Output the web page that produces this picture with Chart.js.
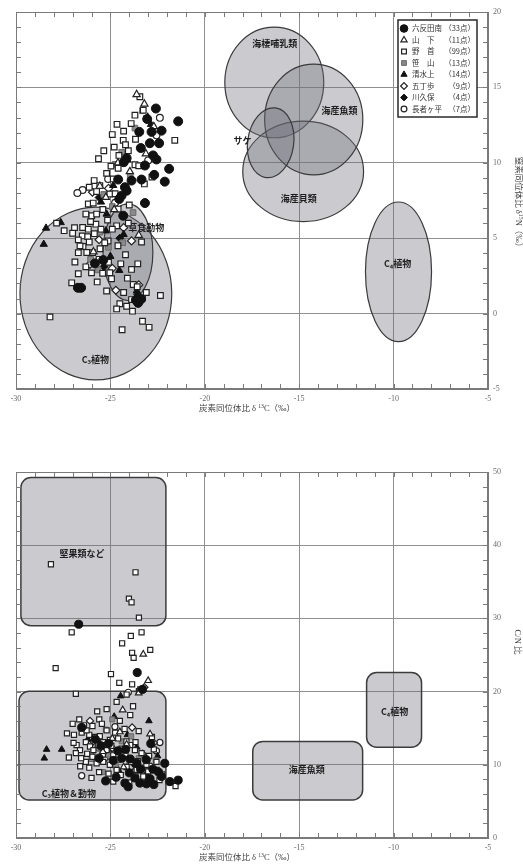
<!DOCTYPE html>
<html>
<head>
<meta charset="utf-8">
<script src="https://cdn.jsdelivr.net/npm/chart.js@4.4.1/dist/chart.umd.min.js"></script>
<style>
  html, body { margin: 0; padding: 0; background: #fff; }
  #wrap { position: relative; width: 523px; height: 864px; }
  canvas { position: absolute; left: 0; }
  #isoChart { top: 0; }
  #cnChart { top: 432px; }
</style>
</head>
<body>
<div id="wrap">
  <canvas id="isoChart" width="523" height="432"></canvas>
  <canvas id="cnChart" width="523" height="432"></canvas>
</div>
<script>
// ---------------- axes ----------------
const d13cRange = [-30, -5];   // δ13C (‰), labelled every 5
const d15nRange = [-5, 20];    // δ15N (‰), labelled every 5
const cnRange = [0, 50];       // C/N ratio, labelled every 10

// ---------------- sites ----------------
const siteNames = ['六反田南', '山　下', '野　首', '笹　山', '清水上', '五丁歩', '川久保', '長者ヶ平'];
const siteCounts = ['（33点）', '（11点）', '（99点）', '（13点）', '（14点）', '（9点）', '（4点）', '（7点）'];

// ---------------- δ13C / δ15N ----------------
const isoRokutanda = [
  [-22.59, 13.6], [-21.41, 12.75], [-23.05, 12.9], [-23.47, 12.05], [-22.82, 12.05], [-22.29, 12.13],
  [-22.91, 11.3], [-22.42, 11.3], [-23.39, 10.98], [-22.74, 10.49], [-22.56, 10.22], [-24.14, 10.31],
  [-24.29, 10.04], [-23.17, 9.82], [-21.89, 9.6], [-22.68, 9.2], [-23.35, 8.89], [-24.59, 8.89],
  [-23.88, 8.82], [-22.12, 8.75], [-24.23, 8.38], [-24.14, 8.15], [-24.41, 7.82], [-23.17, 7.33],
  [-24.32, 6.49], [-24.53, 7.6], [-25.38, 3.55], [-25.82, 3.33], [-26.72, 1.71], [-26.55, 1.71],
  [-23.53, 0.71], [-23.38, 0.95], [-23.65, 0.9]
];
const isoYamashita = [
  [-23.61, 14.53], [-23.2, 13.9], [-23.12, 10.6], [-23.97, 9.42], [-25.56, 8.45], [-25.24, 7.71],
  [-24.8, 6.9], [-22.7, 12.4], [-24.6, 10.0], [-23.5, 5.2], [-25.9, 4.1]
];
const isoNokubi = [
  [-23.44, 14.38], [-23.26, 13.49], [-23.7, 13.16], [-23.08, 12.93], [-21.59, 11.49], [-24.9, 11.87],
  [-24.32, 11.49], [-23.67, 11.56], [-24.8, 11.04], [-24.55, 10.49], [-25.63, 10.27], [-24.97, 9.78],
  [-24.59, 9.64], [-23.7, 9.87], [-23.5, 9.8], [-25.86, 8.82], [-25.56, 8.49], [-26.12, 8.38],
  [-24.85, 8.93], [-25.73, 8.09], [-26.17, 7.27], [-25.91, 7.33], [-25.03, 7.93], [-24.59, 6.93],
  [-25.99, 6.49], [-25.73, 6.6], [-27.85, 6.0], [-27.0, 5.33], [-26.47, 5.71], [-26.17, 5.6],
  [-25.77, 5.93], [-26.49, 5.15], [-26.2, 5.1], [-25.85, 5.3], [-26.7, 4.89], [-26.12, 4.75],
  [-25.12, 4.82], [-24.67, 5.82], [-23.35, 4.75], [-26.7, 4.04], [-26.45, 4.45], [-26.25, 4.05],
  [-26.88, 3.42], [-26.7, 2.64], [-27.05, 2.04], [-23.88, 2.93], [-23.79, 1.93], [-23.58, 1.78],
  [-25.03, 2.71], [-24.94, 2.31], [-25.41, 2.67], [-24.5, 0.65], [-24.67, 0.31], [-24.14, 0.49],
  [-23.83, 0.16], [-23.3, 1.04], [-23.88, 0.93], [-28.2, -0.22], [-24.38, -1.07], [-23.3, -0.51],
  [-22.95, -0.91], [-26.61, 4.49], [-25.94, 4.04], [-25.55, 4.3], [-24.3, 12.1], [-24.05, 10.8],
  [-25.2, 9.3], [-25.35, 10.8], [-24.2, 11.2], [-24.65, 12.55], [-23.9, 12.6], [-24.0, 7.2],
  [-24.75, 7.95], [-25.4, 6.9], [-25.15, 6.2], [-26.3, 6.6], [-26.05, 6.1], [-25.5, 5.6],
  [-24.9, 5.6], [-25.3, 4.7], [-24.6, 4.5], [-24.45, 3.3], [-24.2, 3.9], [-26.3, 3.1],
  [-25.7, 2.1], [-25.2, 1.5], [-24.3, 1.4], [-23.1, 1.4], [-27.45, 5.5], [-23.55, 3.3],
  [-24.1, 2.35], [-22.8, 9.05], [-23.2, 8.6], [-25.6, 3.6], [-26.9, 5.7], [-24.05, 6.0],
  [-25.1, 3.4], [-26.0, 2.7], [-22.35, 1.2]
];
const isoSasayama = [
  [-23.3, 13.45], [-23.7, 12.3], [-24.4, 10.7], [-24.75, 9.9], [-23.95, 9.1], [-25.35, 7.9],
  [-24.9, 7.1], [-25.55, 5.4], [-25.1, 4.4], [-26.05, 3.6], [-25.65, 2.9], [-24.35, 4.7], [-23.8, 6.7]
];
const isoShimizunokami = [
  [-23.03, 13.04], [-22.85, 12.55], [-25.2, 6.6], [-28.41, 5.67], [-27.63, 6.04], [-28.53, 4.6],
  [-24.53, 2.87], [-25.24, 5.49], [-24.1, 10.2], [-24.85, 8.5], [-25.5, 7.4], [-24.3, 5.25],
  [-25.0, 3.8], [-23.6, 1.5]
];
const isoGochobu = [
  [-23.88, 4.82], [-24.71, 1.55], [-26.08, 3.27], [-25.95, 8.05], [-25.1, 8.3], [-24.3, 5.7],
  [-23.5, 1.9], [-25.6, 4.9], [-24.9, 3.0]
];
const isoKawakubo = [[-25.35, 3.1], [-24.5, 5.0], [-23.55, 1.25], [-25.6, 7.7]];
const isoChojagahira = [
  [-22.38, 12.98], [-26.47, 8.2], [-22.56, 11.82], [-25.12, 8.93], [-23.0, 10.16], [-24.75, 7.35], [-26.75, 8.0]
];

// ---------------- δ13C / C:N ----------------
const cnRokutanda = [
  [-26.68, 29.2], [-23.58, 22.6], [-23.3, 20.3], [-26.52, 15.1], [-22.86, 12.9], [-25.25, 7.8],
  [-24.23, 7.5], [-24.06, 7.0], [-23.44, 7.5], [-23.09, 7.4], [-22.7, 7.3], [-22.12, 10.2],
  [-21.41, 7.9], [-21.85, 7.7], [-25.8, 13.5], [-25.5, 12.6], [-25.1, 12.9], [-24.6, 11.9],
  [-24.2, 12.1], [-24.85, 10.6], [-24.4, 10.9], [-23.95, 10.8], [-23.6, 10.2], [-23.1, 10.7],
  [-22.75, 9.4], [-22.45, 9.0], [-22.3, 8.4], [-23.4, 9.4], [-24.0, 8.9], [-24.7, 8.3],
  [-25.6, 10.9], [-23.7, 8.2], [-22.9, 8.1]
];
const cnYamashita = [
  [-23.26, 25.1], [-24.35, 17.5], [-24.5, 14.5], [-24.14, 12.8], [-23.5, 19.8], [-24.9, 13.6],
  [-23.9, 10.3], [-25.4, 11.8], [-22.9, 14.2], [-24.3, 9.7], [-23.0, 21.5]
];
const cnNokubi = [
  [-28.15, 37.4], [-23.67, 36.3], [-24.02, 32.7], [-23.88, 32.2], [-23.49, 30.1], [-27.05, 28.1],
  [-23.92, 27.6], [-23.35, 28.1], [-24.38, 26.6], [-23.85, 25.3], [-23.77, 24.6], [-22.89, 25.7],
  [-27.9, 23.2], [-24.97, 22.4], [-24.53, 21.2], [-23.85, 21.0], [-23.49, 20.05], [-26.83, 19.7],
  [-24.14, 19.6], [-24.67, 18.6], [-25.2, 17.6], [-26.65, 16.2], [-25.59, 16.2], [-26.93, 14.1],
  [-23.67, 13.1], [-26.12, 9.6], [-23.67, 8.5], [-21.55, 7.1], [-24.85, 7.7], [-23.42, 20.3],
  [-26.52, 14.4], [-26.12, 14.1], [-25.82, 13.8], [-25.56, 13.9], [-26.79, 12.7], [-26.3, 13.1],
  [-26.08, 12.5], [-26.61, 12.0], [-26.83, 11.6], [-26.23, 11.5], [-25.9, 12.0], [-25.64, 12.7],
  [-25.03, 13.4], [-24.59, 13.6], [-25.38, 13.1], [-24.85, 11.3], [-24.59, 10.7], [-26.3, 10.4],
  [-25.73, 10.2], [-25.38, 10.4], [-25.03, 10.0], [-24.67, 9.3], [-24.14, 9.7], [-23.61, 9.3],
  [-23.09, 10.0], [-22.56, 10.4], [-23.26, 8.4], [-23.7, 12.0], [-24.41, 12.2], [-25.2, 14.7],
  [-26.26, 14.7], [-25.95, 15.3], [-24.25, 14.9], [-23.95, 16.8], [-25.45, 15.6], [-26.95, 13.0],
  [-27.2, 11.0], [-26.55, 10.9], [-25.95, 11.1], [-25.2, 12.0], [-24.95, 12.6], [-24.2, 11.5],
  [-23.95, 12.7], [-23.35, 11.6], [-22.95, 11.2], [-22.55, 9.3], [-22.25, 8.7], [-23.0, 9.1],
  [-24.45, 8.6], [-25.6, 9.0], [-25.1, 8.8], [-26.0, 8.2], [-24.0, 7.6], [-22.4, 7.9],
  [-23.8, 18.0], [-24.5, 16.0], [-25.7, 17.3], [-26.4, 15.4], [-27.0, 15.6], [-24.75, 14.4],
  [-23.5, 14.6], [-22.8, 13.8], [-24.15, 13.2], [-26.6, 9.8], [-25.4, 11.4], [-24.6, 11.9],
  [-23.55, 10.5], [-22.7, 12.1], [-27.3, 14.3]
];
const cnSasayama = [
  [-25.24, 14.8], [-24.9, 16.2], [-25.7, 12.3], [-25.1, 11.4], [-24.4, 13.2], [-24.0, 10.4],
  [-23.5, 10.9], [-26.0, 10.8], [-24.7, 9.8], [-23.2, 9.6], [-25.4, 9.0], [-23.9, 13.9], [-22.6, 10.6]
];
const cnShimizunokami = [
  [-24.46, 19.4], [-22.96, 16.0], [-28.38, 12.1], [-27.58, 12.1], [-28.5, 10.9], [-24.8, 16.6],
  [-24.1, 14.1], [-25.2, 11.6], [-23.6, 12.4], [-24.5, 9.0], [-25.9, 11.0], [-23.1, 8.8],
  [-22.5, 11.2], [-26.2, 13.5]
];
const cnGochobu = [
  [-26.08, 16.0], [-23.85, 15.1], [-23.2, 20.6], [-25.9, 13.2], [-24.9, 12.3], [-23.3, 11.5],
  [-22.7, 13.0], [-25.3, 10.8], [-23.8, 9.0]
];
const cnKawakubo = [[-25.0, 12.0], [-24.3, 11.0], [-23.7, 9.9], [-25.5, 13.1]];
const cnChojagahira = [
  [-24.76, 15.2], [-22.38, 13.05], [-22.56, 11.9], [-26.52, 8.5], [-24.05, 19.9], [-22.9, 9.8], [-25.6, 12.3]
];

// ---------------- reference ranges ----------------
// δ13C–δ15N ellipses: centre (δ13C, δ15N) and semi-axes in ‰
const isoZoneNames = ['C₃植物', '草食動物', '海棲哺乳類', '海産貝類', '海産魚類', 'サケ', 'C₄植物'];
const isoZoneCenters = [[-25.77, 1.33], [-24.07, 4.07], [-16.32, 15.33], [-14.79, 9.43], [-14.23, 12.87], [-16.51, 11.33], [-9.74, 2.77]];
const isoZoneRadii = [[4.02, 5.73], [1.32, 3.2], [2.62, 3.67], [3.2, 3.33], [2.6, 3.67], [1.22, 2.33], [1.75, 4.63]];
const isoZoneLabels = [[-25.8, -3.07], [-23.1, 5.73], [-16.3, 17.9], [-15.03, 7.6], [-12.86, 13.47], [-18.0, 11.45], [-9.79, 3.33]];
const isoZoneTilt = [0, 0, 0, 0, 0, 8, 0];

// δ13C–C/N boxes: δ13C span, C/N span
const cnZoneNames = ['堅果類など', 'C₃植物＆動物', 'C₄植物', '海産魚類'];
const cnZoneX = [[-29.74, -22.06], [-29.84, -22.06], [-11.43, -8.52], [-17.46, -11.64]];
const cnZoneY = [[29.0, 49.25], [5.2, 20.05], [12.4, 22.6], [5.2, 13.2]];
const cnZoneLabels = [[-26.5, 38.9], [-27.2, 6.1], [-9.95, 17.3], [-14.6, 9.3]];

// ---------------- styling ----------------
const TICK_FONT = '"Liberation Serif", "DejaVu Serif", serif';
const JP_FONT = '"Noto Sans CJK JP", "Noto Sans", sans-serif';
const TITLE_FONT = '"Liberation Serif", "Noto Sans CJK JP", serif';
const ZONE_FILL = 'rgba(112,112,122,0.36)';
const siteMarkers = [
  { shape: 'circle',   fill: '#111',  stroke: '#111', r: 4.5, bw: 1 },
  { shape: 'triangle', fill: '#fff',  stroke: '#222', r: 4.2, bw: 1.2 },
  { shape: 'rect',     fill: '#fff',  stroke: '#222', r: 4.0, bw: 1.2 },
  { shape: 'rect',     fill: '#8a8a8a', stroke: '#6a6a6a', r: 4.0, bw: 1 },
  { shape: 'triangle', fill: '#111',  stroke: '#111', r: 4.2, bw: 1 },
  { shape: 'rectRot',  fill: '#fff',  stroke: '#222', r: 4.0, bw: 1.2 },
  { shape: 'rectRot',  fill: '#111',  stroke: '#111', r: 4.0, bw: 1 },
  { shape: 'circle',   fill: '#fff',  stroke: '#222', r: 3.4, bw: 1.2 }
];

function buildDatasets(seriesList, scale) {
  return seriesList.map((pts, i) => {
    const m = siteMarkers[i];
    return {
      label: siteNames[i],
      data: pts.map(([x, y]) => ({ x, y })),
      pointStyle: m.shape,
      pointRadius: m.r * scale,
      pointHoverRadius: m.r * scale,
      backgroundColor: m.fill,
      borderColor: m.stroke,
      borderWidth: m.bw,
      showLine: false
    };
  });
}

function drawMarker(ctx, m, x, y) {
  const r = m.r;
  ctx.beginPath();
  if (m.shape === 'circle') ctx.arc(x, y, r, 0, Math.PI * 2);
  else if (m.shape === 'triangle') {
    ctx.moveTo(x, y - r); ctx.lineTo(x + r * 0.866, y + r * 0.5); ctx.lineTo(x - r * 0.866, y + r * 0.5); ctx.closePath();
  } else if (m.shape === 'rect') {
    const s = r * Math.SQRT1_2; ctx.rect(x - s, y - s, 2 * s, 2 * s);
  } else {
    ctx.moveTo(x, y - r); ctx.lineTo(x + r, y); ctx.lineTo(x, y + r); ctx.lineTo(x - r, y); ctx.closePath();
  }
  ctx.fillStyle = m.fill; ctx.fill();
  ctx.lineWidth = m.bw; ctx.strokeStyle = m.stroke; ctx.stroke();
}

// plot frame with short inward minor ticks on all four sides
function drawFrame(chart, xStep, yStep) {
  const { ctx, chartArea: a, scales: { x, y } } = chart;
  const L = 5;
  ctx.save();
  ctx.strokeStyle = '#7a7a7a';
  ctx.lineWidth = 1;
  ctx.strokeRect(a.left + 0.5, a.top + 0.5, a.width - 1, a.height - 1);
  ctx.beginPath();
  for (let v = x.min + xStep; v < x.max - 1e-6; v += xStep) {
    const px = Math.round(x.getPixelForValue(v)) + 0.5;
    ctx.moveTo(px, a.bottom); ctx.lineTo(px, a.bottom - L);
    ctx.moveTo(px, a.top); ctx.lineTo(px, a.top + L);
  }
  for (let v = y.min + yStep; v < y.max - 1e-6; v += yStep) {
    const py = Math.round(y.getPixelForValue(v)) + 0.5;
    ctx.moveTo(a.left, py); ctx.lineTo(a.left + L, py);
    ctx.moveTo(a.right, py); ctx.lineTo(a.right - L, py);
  }
  ctx.stroke();
  ctx.restore();
}

function zoneLabel(ctx, text, x, y) {
  ctx.font = 'bold 9px ' + JP_FONT;
  ctx.fillStyle = '#1e1e1e';
  ctx.textAlign = 'center';
  ctx.textBaseline = 'middle';
  ctx.fillText(text, x, y);
}

// text with superscripted runs, centred on (cx, cy)
function drawRich(ctx, parts, cx, cy, size) {
  const fonts = parts.map(p => (p[1] ? (size * 0.68).toFixed(1) : size) + 'px ' + TITLE_FONT);
  let w = 0;
  parts.forEach((p, i) => { ctx.font = fonts[i]; w += ctx.measureText(p[0]).width; });
  let x = cx - w / 2;
  ctx.textAlign = 'left';
  ctx.textBaseline = 'middle';
  ctx.fillStyle = '#444';
  parts.forEach((p, i) => {
    ctx.font = fonts[i];
    ctx.fillText(p[0], x, p[1] ? cy - size * 0.35 : cy);
    x += ctx.measureText(p[0]).width;
  });
}

const xTitleParts = [['炭素同位体比 δ ', false], ['13', true], ['C（‰）', false]];

function scaleOptions(yRange, yStep, xHeight) {
  const tickFont = { family: TICK_FONT, size: 8 };
  const grid = { color: '#8f8f8f', lineWidth: 1, drawTicks: false };
  return {
    x: {
      type: 'linear', position: 'bottom', min: d13cRange[0], max: d13cRange[1],
      ticks: { stepSize: 5, padding: 5, font: tickFont, color: '#6a6a6a', maxRotation: 0, autoSkip: false },
      grid, border: { display: true, color: '#7a7a7a' },
      afterFit: s => { s.height = xHeight; }
    },
    y: {
      type: 'linear', position: 'right', min: yRange[0], max: yRange[1],
      ticks: { stepSize: yStep, padding: 5, font: tickFont, color: '#6a6a6a', autoSkip: false },
      grid, border: { display: true, color: '#7a7a7a' },
      afterFit: s => { s.width = 35; }
    }
  };
}

// ---------------- δ13C–δ15N chart ----------------
const isoPlugin = {
  id: 'isoZones',
  beforeDatasetsDraw(chart) {
    const { ctx, chartArea: a, scales: { x, y } } = chart;
    ctx.save();
    ctx.beginPath(); ctx.rect(a.left, a.top, a.width, a.height); ctx.clip();
    isoZoneCenters.forEach((c, i) => {
      const px = x.getPixelForValue(c[0]), py = y.getPixelForValue(c[1]);
      const rx = Math.abs(x.getPixelForValue(c[0] + isoZoneRadii[i][0]) - px);
      const ry = Math.abs(y.getPixelForValue(c[1] + isoZoneRadii[i][1]) - py);
      ctx.beginPath();
      ctx.ellipse(px, py, rx, ry, isoZoneTilt[i] * Math.PI / 180, 0, Math.PI * 2);
      ctx.fillStyle = ZONE_FILL; ctx.fill();
      ctx.lineWidth = 1.2; ctx.strokeStyle = '#3a3a3a'; ctx.stroke();
    });
    isoZoneLabels.forEach((l, i) => zoneLabel(ctx, isoZoneNames[i], x.getPixelForValue(l[0]), y.getPixelForValue(l[1])));
    ctx.restore();
    drawFrame(chart, 1, 1);
  },
  afterDatasetsDraw(chart) {
    // site key, upper right of the plot
    const { ctx, chartArea: a } = chart;
    const w = 79, h = 97, x0 = a.right - 90, y0 = a.top + 8;
    ctx.save();
    ctx.fillStyle = '#fff';
    ctx.fillRect(x0, y0, w, h);
    ctx.lineWidth = 1.5; ctx.strokeStyle = '#2a2a2a';
    ctx.strokeRect(x0, y0, w, h);
    siteNames.forEach((name, i) => {
      const ry = y0 + 8.5 + i * 11.5;
      const m = siteMarkers[i];
      drawMarker(ctx, { ...m, r: m.r * 0.85 }, x0 + 6, ry);
      ctx.font = '7.5px ' + JP_FONT;
      ctx.fillStyle = '#333';
      ctx.textBaseline = 'middle';
      ctx.textAlign = 'left';
      ctx.fillText(name, x0 + 14, ry);
      ctx.textAlign = 'right';
      ctx.fillText(siteCounts[i], x0 + w - 2, ry);
    });
    ctx.restore();
  },
  afterDraw(chart) {
    const { ctx, chartArea: a } = chart;
    ctx.save();
    drawRich(ctx, xTitleParts, (a.left + a.right) / 2 - 5, a.bottom + 20, 8.5);
    ctx.translate(a.right + 30, a.top + 192);
    ctx.rotate(Math.PI / 2);
    drawRich(ctx, [['窒素同位体比 δ', false], ['15', true], ['N（‰）', false]], 0, 0, 8.5);
    ctx.restore();
  }
};

new Chart(document.getElementById('isoChart'), {
  type: 'scatter',
  data: {
    datasets: buildDatasets([isoRokutanda, isoYamashita, isoNokubi, isoSasayama, isoShimizunokami, isoGochobu, isoKawakubo, isoChojagahira], 1)
  },
  options: {
    responsive: false, devicePixelRatio: 1, animation: false, events: [],
    layout: { padding: { left: 16, top: 12, right: 0, bottom: 0 } },
    plugins: { legend: { display: false }, tooltip: { enabled: false } },
    scales: scaleOptions(d15nRange, 5, 43)
  },
  plugins: [isoPlugin]
});

// ---------------- δ13C–C/N chart ----------------
const cnPlugin = {
  id: 'cnZones',
  beforeDatasetsDraw(chart) {
    const { ctx, chartArea: a, scales: { x, y } } = chart;
    ctx.save();
    ctx.beginPath(); ctx.rect(a.left, a.top, a.width, a.height); ctx.clip();
    cnZoneX.forEach((xs, i) => {
      const x0 = x.getPixelForValue(xs[0]), x1 = x.getPixelForValue(xs[1]);
      const y0 = y.getPixelForValue(cnZoneY[i][1]), y1 = y.getPixelForValue(cnZoneY[i][0]);
      const r = 10;
      ctx.beginPath();
      ctx.moveTo(x0 + r, y0);
      ctx.arcTo(x1, y0, x1, y1, r);
      ctx.arcTo(x1, y1, x0, y1, r);
      ctx.arcTo(x0, y1, x0, y0, r);
      ctx.arcTo(x0, y0, x1, y0, r);
      ctx.closePath();
      ctx.fillStyle = ZONE_FILL; ctx.fill();
      ctx.lineWidth = 1.5; ctx.strokeStyle = '#3c3c3c'; ctx.stroke();
    });
    cnZoneLabels.forEach((l, i) => zoneLabel(ctx, cnZoneNames[i], x.getPixelForValue(l[0]), y.getPixelForValue(l[1])));
    ctx.restore();
    drawFrame(chart, 1, 2);
  },
  afterDraw(chart) {
    const { ctx, chartArea: a } = chart;
    ctx.save();
    drawRich(ctx, xTitleParts, (a.left + a.right) / 2 - 5, a.bottom + 20, 8.5);
    ctx.translate(a.right + 29, a.top + 170);
    ctx.rotate(Math.PI / 2);
    drawRich(ctx, [['C/N 比', false]], 0, 0, 8.5);
    ctx.restore();
  }
};

new Chart(document.getElementById('cnChart'), {
  type: 'scatter',
  data: {
    datasets: buildDatasets([cnRokutanda, cnYamashita, cnNokubi, cnSasayama, cnShimizunokami, cnGochobu, cnKawakubo, cnChojagahira], 0.9)
  },
  options: {
    responsive: false, devicePixelRatio: 1, animation: false, events: [],
    layout: { padding: { left: 16, top: 40, right: 0, bottom: 0 } },
    plugins: { legend: { display: false }, tooltip: { enabled: false } },
    scales: scaleOptions(cnRange, 10, 26)
  },
  plugins: [cnPlugin]
});
</script>
</body>
</html>
